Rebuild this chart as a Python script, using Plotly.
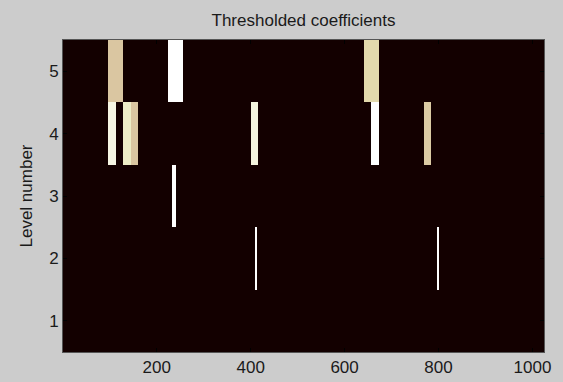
import numpy as np
import plotly.graph_objects as go

# ---- data ----
n_samples = 1024
level_numbers = [1, 2, 3, 4, 5]
block_levels = [5, 5, 5, 4, 4, 4, 4, 4, 4, 3, 2, 2]
block_starts = [97, 225, 641, 97, 129, 145, 401, 657, 769, 233, 409, 797]
block_values = [0.60, 1.00, 0.68, 0.90, 0.80, 0.60, 0.88, 1.00, 0.62, 1.00, 1.00, 1.00]
x_tick_vals = [200, 400, 600, 800, 1000]
y_tick_vals = [1, 2, 3, 4, 5]

x = np.arange(1, n_samples + 1)
z = np.zeros((len(level_numbers), n_samples))
for lev, st, val in zip(block_levels, block_starts, block_values):
    w = 2 ** lev
    z[lev - 1, st - 1:st - 1 + w] = val


# MATLAB-like "pink" colormap
def pink(t):
    r = min(1.0, t / 0.375)
    g = min(1.0, max(0.0, (t - 0.375) / 0.375))
    b = min(1.0, max(0.0, (t - 0.75) / 0.25))
    c = [np.sqrt((2 * t + h) / 3) for h in (r, g, b)]
    return "rgb(%d,%d,%d)" % tuple(int(round(v * 255)) for v in c)


colorscale = [[0.0, "#130000"], [0.3, pink(0.3)]] + [[t, pink(t)] for t in np.linspace(0.5, 1.0, 11)]

fig = go.Figure(
    go.Heatmap(
        x=x,
        y=level_numbers,
        z=z,
        zmin=0,
        zmax=1,
        colorscale=colorscale,
        showscale=False,
        zsmooth=False,
        hoverinfo="skip",
    )
)

font_family = "Liberation Sans, Arial, Helvetica, sans-serif"
axis_common = dict(
    showgrid=False,
    zeroline=False,
    automargin=False,
    ticks="inside",
    ticklen=4,
    tickcolor="#000000",
    showline=True,
    linecolor="#555555",
    linewidth=1,
    mirror="ticks",
    tickfont=dict(family=font_family, size=17, color="#1a1a1a"),
)

fig.update_layout(
    width=563,
    height=382,
    paper_bgcolor="#cccccc",
    plot_bgcolor="#130000",
    margin=dict(l=63, r=19, t=40, b=30),
    title=dict(
        text="Thresholded coefficients",
        x=0.5,
        xref="paper",
        xanchor="center",
        y=1,
        yref="container",
        yanchor="top",
        pad=dict(t=14),
        font=dict(family=font_family, size=17, color="#1a1a1a"),
        automargin=False,
    ),
    xaxis=dict(range=[0.5, 1024.5], tickvals=x_tick_vals, **axis_common),
    yaxis=dict(
        range=[0.5, 5.5],
        tickvals=y_tick_vals,
        title=dict(text="Level number", font=dict(family=font_family, size=17, color="#1a1a1a"), standoff=12),
        **axis_common,
    ),
)

fig.write_html(
    "out.html",
    config={"displayModeBar": False},
    post_script="document.body.style.margin='0';document.body.style.background='#cccccc';",
)
